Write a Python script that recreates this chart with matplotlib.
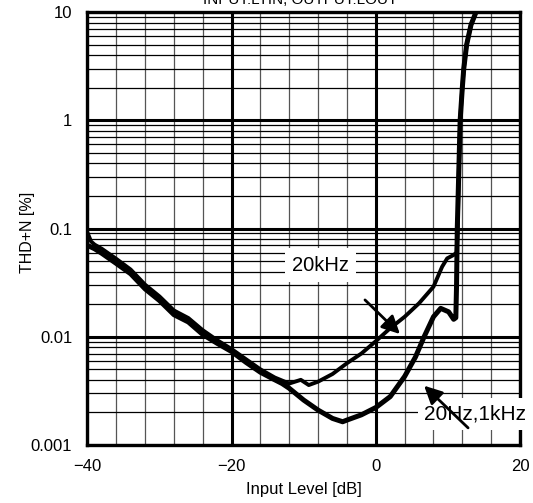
import matplotlib
matplotlib.use("Agg")
import matplotlib.pyplot as plt
from matplotlib.ticker import FixedLocator, LogLocator, NullFormatter

plt.rcParams["font.family"] = ["Liberation Sans", "DejaVu Sans"]

# THD+N vs input level, 20 kHz
level_20k = [-40, -39.5, -39, -38, -36, -34, -32, -30, -28, -26, -24, -22, -20,
             -18, -16, -14, -12, -10.4, -9.3, -8, -6, -4, -2, 0, 2, 4, 6, 8,
             9.2, 9.9, 10.8, 11.2, 11.35, 11.5, 11.7, 12.0, 12.2, 12.6, 13.2,
             13.9, 14.4]
thdn_20k = [0.092, 0.076, 0.071, 0.065, 0.0525, 0.0418, 0.0303, 0.0236, 0.0175,
            0.0149, 0.0115, 0.0093, 0.0077, 0.0062, 0.0050, 0.0042, 0.0037,
            0.0040, 0.00358, 0.00385, 0.00453, 0.0057, 0.0070, 0.0091, 0.012,
            0.0153, 0.0204, 0.029, 0.0444, 0.053, 0.057, 0.060, 0.09, 0.3,
            1.0, 2.0, 3.0, 5.0, 7.6, 10.0, 13.0]

# THD+N vs input level, 20 Hz / 1 kHz
level_1k = [-40, -39, -38, -36, -34, -32, -30, -28, -26, -24, -22, -20, -18,
            -16, -14, -13, -12, -10, -8, -6, -4.6, -4, -2, 0, 2, 4, 5.5, 6.7,
            8, 9.0, 10.1, 10.8, 11.1, 11.2, 11.3, 11.7, 12.0, 12.2, 12.6,
            13.2, 13.9, 14.4]
thdn_1k = [0.070, 0.065, 0.059, 0.0476, 0.0382, 0.0277, 0.0216, 0.0160,
           0.0137, 0.0105, 0.0087, 0.0073, 0.0058, 0.0047, 0.0040, 0.0037,
           0.00334, 0.0026, 0.0021, 0.00176, 0.00164, 0.0017, 0.0019, 0.00222,
           0.0028, 0.0043, 0.0065, 0.010, 0.0153, 0.0183, 0.017, 0.0145,
           0.015, 0.03, 0.1, 1.0, 2.0, 3.0, 5.0, 7.6, 10.0, 13.0]

x_ticks = [-40, -20, 0, 20]
x_tick_labels = ["\u221240", "\u221220", "0", "20"]
y_ticks = [0.001, 0.01, 0.1, 1, 10]
y_tick_labels = ["0.001", "0.01", "0.1", "1", "10"]

fig = plt.figure(figsize=(5.33, 5.03), dpi=100)
ax = fig.add_axes([0.164, 0.1153, 0.8116, 0.8607])

ax.set_xlim(-40, 20)
ax.set_ylim(0.001, 10)
ax.set_yscale("log")

ax.set_xticks(x_ticks)
ax.set_xticklabels(x_tick_labels)
ax.xaxis.set_minor_locator(FixedLocator(range(-40, 21, 4)))
ax.set_yticks(y_ticks)
ax.set_yticklabels(y_tick_labels)
ax.yaxis.set_minor_locator(LogLocator(base=10, subs=range(2, 10)))
ax.yaxis.set_minor_formatter(NullFormatter())

ax.tick_params(which="both", length=0)
ax.tick_params(axis="x", labelsize=12, pad=10)
ax.tick_params(axis="y", labelsize=12, pad=11)

# chart paper grid
ax.xaxis.grid(True, which="minor", color="#555555", lw=0.9)
ax.yaxis.grid(True, which="minor", color="black", lw=0.9)
ax.xaxis.grid(True, which="major", color="black", lw=2.2)
ax.yaxis.grid(True, which="major", color="black", lw=2.2)
ax.set_axisbelow(True)
for sp in ax.spines.values():
    sp.set_linewidth(2.4)

ax.plot(level_1k, thdn_1k, color="black", lw=3.6, solid_capstyle="round",
        solid_joinstyle="round", zorder=4)
ax.plot(level_20k, thdn_20k, color="black", lw=2.8, solid_capstyle="round",
        solid_joinstyle="round", zorder=4)

ax.set_xlabel("Input Level [dB]", fontsize=12, labelpad=6)
ax.set_ylabel("THD+N [%]", fontsize=11.5)
ax.yaxis.set_label_coords(-0.121, 0.49)

ax.text(-7.7, 0.046, "20kHz", fontsize=14.5, ha="center", va="center",
        zorder=3, bbox=dict(boxstyle="square,pad=0.35", fc="white", ec="none"))
ax.annotate("", xy=(3.35, 0.0106), xytext=(-1.5, 0.0219),
            arrowprops=dict(arrowstyle="-|>", lw=2, color="black",
                            mutation_scale=27, shrinkA=0, shrinkB=0),
            zorder=5)

ax.text(13.8, 0.00193, "20Hz,1kHz", fontsize=15, ha="center", va="center",
        zorder=3, clip_on=False,
        bbox=dict(boxstyle="square,pad=0.3", fc="white", ec="none"))
ax.annotate("", xy=(6.7, 0.00353), xytext=(12.8, 0.00144),
            arrowprops=dict(arrowstyle="-|>", lw=2, color="black",
                            mutation_scale=27, shrinkA=0, shrinkB=0),
            zorder=5)

fig.text(0.563, 1 - 4 / 503, "INPUT:LTIN, OUTPUT:LOUT", fontsize=11,
         ha="center", va="baseline")

fig.savefig("out.png", dpi=100)
